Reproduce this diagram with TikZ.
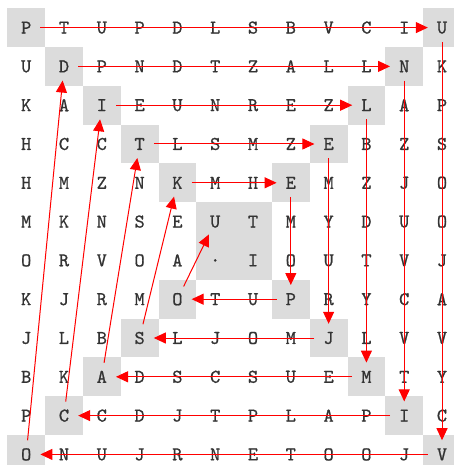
\documentclass[tikz,border=0pt]{standalone}
\usepackage{fontspec}
\newfontfamily\gridfont{lmmono10-regular.otf}[FakeBold=0.8]
\usetikzlibrary{arrows.meta}
\definecolor{cellgrey}{HTML}{DCDCDC}
\definecolor{lettergrey}{HTML}{333333}
\definecolor{trailred}{HTML}{FF0000}

\begin{document}
\begin{tikzpicture}[x=37.8pt, y=-38.8pt,
        letter/.style={circle, minimum size=28pt, inner sep=0pt, text=lettergrey,
            font=\gridfont\fontsize{19.5}{19.5}\selectfont},
        trail/.style={draw=trailred, line width=1pt, -{Triangle[length=12pt, width=11pt]}}]
        \useasboundingbox (-0.193,-0.211) rectangle (11.817,11.773);
        \clip (-0.193,-0.211) rectangle (11.817,11.773);

        % grey cells of the spiral
        \foreach \c/\r in {0/0, 11/0, 1/1, 10/1, 2/2, 9/2, 3/3, 8/3, 4/4, 7/4, 5/5, 6/5,
                5/6, 6/6, 4/7, 7/7, 3/8, 8/8, 2/9, 9/9, 1/10, 10/10, 0/11, 11/11}
            \fill[cellgrey] (\c,\r) rectangle ++(1,1);

        % the letter grid
        \foreach \row [count=\r from 0] in {
                {P,T,U,P,D,L,S,B,V,C,I,U},
                {U,D,P,N,D,T,Z,A,L,L,N,K},
                {K,A,I,E,U,N,R,E,Z,L,A,P},
                {H,C,C,T,L,S,M,Z,E,B,Z,S},
                {H,M,Z,N,K,M,H,E,M,Z,J,O},
                {M,K,N,S,E,U,T,M,Y,D,U,O},
                {O,R,V,O,A,.,I,O,U,T,V,J},
                {K,J,R,M,O,T,U,P,R,Y,C,A},
                {J,L,B,S,L,J,O,M,J,L,V,V},
                {B,K,A,D,S,C,S,U,E,M,T,Y},
                {P,C,C,D,J,T,P,L,A,P,I,C},
                {O,N,U,J,R,N,E,T,O,O,J,V}}
            \foreach \ch [count=\c from 0] in \row
                \node[letter] (n\r-\c) at (\c+0.5,\r+0.5) {\ch};

        % the spiral path
        \foreach \a/\b in {0-0/0-11, 0-11/11-11, 11-11/11-0, 11-0/1-1, 1-1/1-10,
                1-10/10-10, 10-10/10-1, 10-1/2-2, 2-2/2-9, 2-9/9-9, 9-9/9-2,
                9-2/3-3, 3-3/3-8, 3-8/8-8, 8-8/8-3, 8-3/4-4, 4-4/4-7, 4-7/7-7,
                7-7/7-4, 7-4/5-5}
            \draw[trail] (n\a) -- (n\b);
\end{tikzpicture}
\end{document}
